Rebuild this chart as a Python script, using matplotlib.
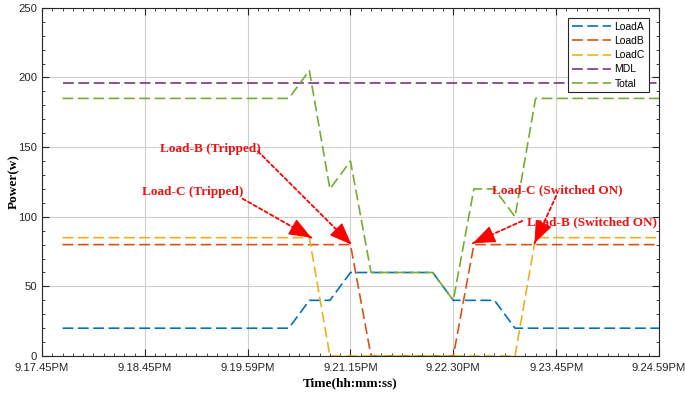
import numpy as np
import matplotlib
matplotlib.use("Agg")
import matplotlib.pyplot as plt
from matplotlib.ticker import MultipleLocator

# time axis: major ticks are evenly spaced, positions 0..6
tick_labels = ['9.17.45PM', '9.18.45PM', '9.19.59PM', '9.21.15PM',
               '9.22.30PM', '9.23.45PM', '9.24.59PM']

t_a = [0.2, 2.4, 2.6, 2.8, 3.0, 3.8, 4.0, 4.4, 4.6, 6.0]
load_a = [20, 20, 40, 40, 60, 60, 40, 40, 20, 20]

t_b = [0.2, 3.0, 3.2, 4.0, 4.2, 6.0]
load_b = [80, 80, 0, 0, 80, 80]

t_c = [0.2, 2.6, 2.8, 4.6, 4.8, 6.0]
load_c = [85, 85, 0, 0, 85, 85]

t_mdl = [0.2, 6.0]
mdl = [196, 196]

t_total = [0.2, 2.4, 2.6, 2.8, 3.0, 3.2, 3.8, 4.0, 4.2, 4.4, 4.6, 4.8, 6.0]
total = [185, 185, 205, 120, 140, 60, 60, 40, 120, 120, 100, 185, 185]

# (label, text pos, arrow start, arrow tip)
notes = [
    ('Load-B (Tripped)', (1.15, 149), (2.10, 147), (3.01, 80)),
    ('Load-C (Tripped)', (0.97, 118), (1.95, 113), (2.62, 85)),
    ('Load-C (Switched ON)', (4.38, 119), (5.00, 115), (4.79, 81)),
    ('Load-B (Switched ON)', (4.72, 96), (4.67, 97), (4.19, 81)),
]

colors = ['#0072BD', '#D95319', '#EDB120', '#7E2F8E', '#77AC30']
dash = (6.5, 2.7)

fig = plt.figure(figsize=(6.85, 3.93), dpi=100)
ax = fig.add_axes([0.0613, 0.094, 0.9007, 0.886])

series = [(t_a, load_a, 'LoadA'), (t_b, load_b, 'LoadB'), (t_c, load_c, 'LoadC'),
          (t_mdl, mdl, 'MDL'), (t_total, total, 'Total')]
for (tx, ty, name), c in zip(series, colors):
    ax.plot(tx, ty, color=c, lw=1.2, dashes=dash, label=name)

ax.set_xlim(0, 6)
ax.set_ylim(0, 250)
ax.set_xticks(range(len(tick_labels)))
ax.set_xticklabels(tick_labels)
ax.set_yticks([0, 50, 100, 150, 200, 250])
ax.xaxis.set_minor_locator(MultipleLocator(0.1))
ax.yaxis.set_minor_locator(MultipleLocator(10))
ax.tick_params(which='both', direction='in', top=True, right=True,
               labelsize=8.1, colors='#262626', labelcolor='#262626')
ax.tick_params(which='major', length=5, width=0.8)
ax.tick_params(which='minor', length=2.5, width=0.6)
ax.tick_params(axis='x', which='major', pad=5)
for lab in ax.get_xticklabels() + ax.get_yticklabels():
    lab.set_family('Liberation Sans')
for sp in ax.spines.values():
    sp.set_color('#262626')
    sp.set_linewidth(0.8)
ax.grid(True, which='major', color='#cfcfcf', lw=0.8)
ax.set_axisbelow(True)

ax.set_xlabel('Time(hh:mm:ss)', family='Liberation Serif', fontweight='bold', fontsize=9.5)
ax.set_ylabel('Power(w)', family='Liberation Serif', fontweight='bold', fontsize=9.5)
ax.xaxis.set_label_coords(0.5, -0.062)
ax.yaxis.set_label_coords(-0.036, 0.5)

for txt, pos, start, tip in notes:
    ax.text(pos[0], pos[1], txt, color='#ee1111', fontsize=9.5, fontweight='bold',
            family='Liberation Serif', ha='left', va='center')
    # dotted shaft
    ax.annotate('', xy=tip, xytext=start,
                arrowprops=dict(arrowstyle='-', color='red', lw=1.3,
                                linestyle=(0, (2, 1.5)), shrinkA=0, shrinkB=0))
    # solid head, on the last bit of the shaft
    near = (tip[0] - 0.08 * (tip[0] - start[0]), tip[1] - 0.08 * (tip[1] - start[1]))
    ax.annotate('', xy=tip, xytext=near,
                arrowprops=dict(arrowstyle='-|>,head_length=1.4,head_width=0.55',
                                color='red', lw=1.0, shrinkA=0, shrinkB=0,
                                mutation_scale=10))

leg = ax.legend(loc='upper right', handlelength=3.8, labelspacing=0.4,
                borderaxespad=1.0, borderpad=0.35, handletextpad=0.3,
                fancybox=False, framealpha=1, edgecolor='#262626',
                prop={'family': 'Liberation Sans', 'size': 7.5})
leg.get_frame().set_linewidth(0.8)

fig.savefig('out.png', dpi=100)
